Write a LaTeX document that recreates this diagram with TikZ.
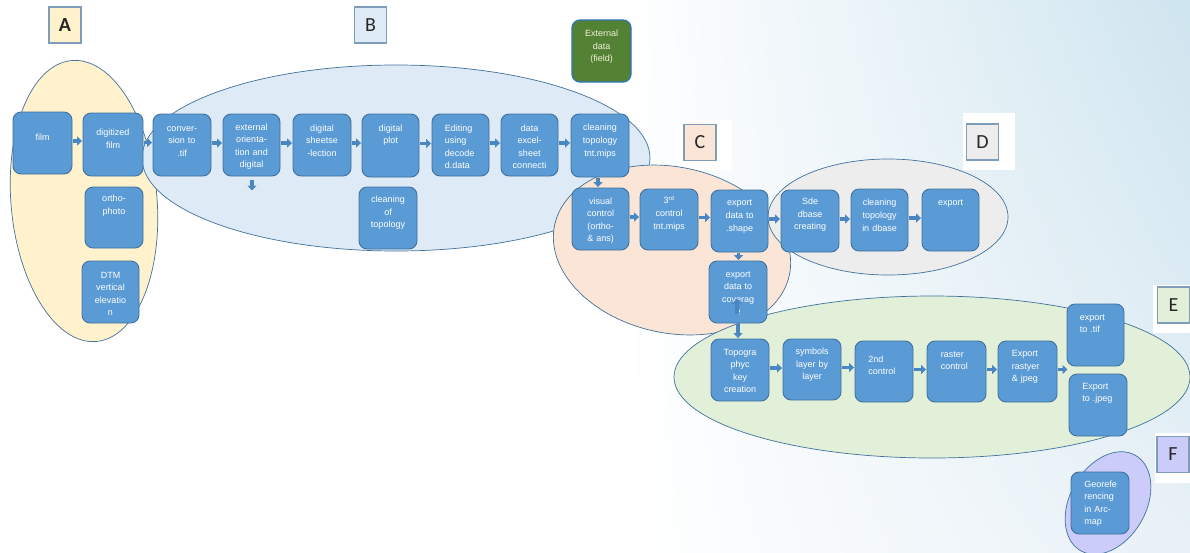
\documentclass[tikz,border=0pt]{standalone}
\usepackage{fontspec}
\setmainfont{Liberation Sans}
\newfontfamily\lblfont{Carlito}
\usetikzlibrary{fit,arrows.meta,shadings}
\definecolor{bxfill}{HTML}{5B9BD5}
\definecolor{bxline}{HTML}{41719C}
\definecolor{arcol}{HTML}{4A86C2}
\definecolor{ellline}{HTML}{41719C}
\definecolor{lblline}{HTML}{7F9DB9}
\definecolor{cA}{HTML}{FFF2CC}
\definecolor{cB}{HTML}{DEEBF7}
\definecolor{cC}{HTML}{FBE5D6}
\definecolor{cD}{HTML}{EDEDED}
\definecolor{cE}{HTML}{E2F0D9}
\definecolor{cF}{HTML}{CCCCFA}
\definecolor{extgreen}{HTML}{548235}
\definecolor{extline}{HTML}{2E75B6}
\definecolor{exttext}{HTML}{F4F1DA}
\definecolor{bgtop}{HTML}{CFE5EF}
\definecolor{bgbot}{HTML}{E8F1F7}
\newcommand\bxn[8][]{\node[bx,#1,fit={(#3,#4)(#5,#6)},path picture={\node[txt,#7] (#2-t) at (path picture bounding box.center) {#8};}] (#2) {};}
\tikzset{
 bx/.style={draw=bxline, fill=bxfill, line width=0.9pt, rounded corners=8pt, inner sep=0pt},
 txt/.style={draw=none, fill=none, text=white, font=\fontsize{9}{12.6}\selectfont, align=center, inner sep=0pt, yshift=-3pt},
 lft/.style={anchor=west, align=left, xshift=-16pt},
 ell/.style={draw=ellline, line width=0.7pt},
 ar/.style={draw=arcol, line width=3.6pt, -{Triangle[length=5pt,width=9pt]}, shorten <=0.5pt, shorten >=0.5pt},
 lbl/.style={draw=lblline, line width=1.5pt, minimum width=32pt, minimum height=36pt, inner sep=0pt, font=\lblfont\fontsize{20}{20}\selectfont, text=black!85},
 whitebg/.style={fill=white, draw=none}
}
\begin{document}
\begin{tikzpicture}[x=1pt,y=-1pt]
\useasboundingbox (0,0) rectangle (1190,552);
\fill[white] (0,0) rectangle (1190,552);
\shade[shading=bilinear interpolation, upper left=white, lower left=white, upper right=bgtop, lower right=bgbot] (620,0) rectangle (1190,552);
% white patches behind labels
\fill[whitebg] (680,120) rectangle (732,170);
\fill[whitebg] (963,113) rectangle (1015,170);
\fill[whitebg] (1153,285) rectangle (1190,333);
\fill[whitebg] (1155,433) rectangle (1190,483);
% group ellipses
\draw[ell, fill=cA, rotate around={5:(84,201)}] (84,201) ellipse [x radius=73, y radius=141];
\draw[ell, fill=cB] (396,158) ellipse [x radius=254, y radius=93];
\draw[ell, fill=cC, rotate around={-12:(672,250)}] (672,250) ellipse [x radius=120, y radius=83];
\draw[ell, fill=cD] (888,217) ellipse [x radius=120, y radius=58];
\draw[ell, fill=cE] (932,377) ellipse [x radius=258, y radius=81];
\draw[ell, fill=cF, rotate around={60:(1108,503)}] (1108,503) ellipse [x radius=55, y radius=38];
% boxes
\bxn{film}{13}{112}{72}{174}{yshift=6pt}{film}
\bxn{dig}{83}{113}{143}{176}{yshift=5.5pt}{digitized\\film}
\bxn{ortho}{85}{187}{143}{248}{yshift=11.5pt}{ortho-\\photo}
\bxn{dtm}{82}{261}{139}{323}{yshift=-2pt}{DTM\\vertical\\elevatio\\n}
\bxn{conv}{153}{114}{211}{176}{yshift=4pt}{conver-\\sion to\\.tif}
\bxn{ext}{223}{114}{280}{176}{yshift=-2pt}{external\\orienta-\\tion and\\digital}
\bxn{sheet}{293}{114}{351}{176}{yshift=4pt}{digital\\sheetse\\-lection}
\bxn{plot}{362}{114}{419}{177}{yshift=10pt}{digital\\plot}
\bxn{cleanof}{359}{187}{417}{249}{yshift=5pt}{cleaning\\of\\topology}
\bxn{edit}{432}{114}{489}{176}{lft,yshift=-2pt}{Editing\\using\\decode\\d.data}
\bxn{excel}{501}{114}{558}{176}{yshift=-2pt}{data\\excel-\\sheet\\connecti}
\bxn{ctt}{571}{114}{629}{177}{yshift=4pt}{cleaning\\topology\\tnt.mips}
\bxn{vis}{572}{188}{629}{250}{yshift=-2pt}{visual\\control\\(ortho-\\\& ans)}
\bxn{third}{640}{189}{698}{250}{yshift=5pt}{3\textsuperscript{rd}\\control\\tnt.mips}
\bxn{shape}{711}{190}{768}{252}{yshift=4.5pt}{export\\data to\\.shape}
\bxn{cov}{709}{261}{767}{323}{yshift=-1pt}{export\\data to\\coverag\\e}
\bxn{sde}{781}{190}{839}{252}{yshift=6pt}{Sde\\dbase\\creating}
\bxn{cldb}{851}{189}{908}{251}{yshift=4.5pt}{cleaning\\topology\\in dbase}
\bxn{exp}{922}{189}{979}{251}{yshift=17pt}{export}
\bxn{topo}{711}{339}{769}{401}{yshift=-1pt}{Topogra\\phyc\\key\\creation}
\bxn{sym}{783}{339}{841}{400}{yshift=4.5pt}{symbols\\layer by\\layer}
\bxn{second}{855}{341}{913}{402}{lft,yshift=6pt}{2nd\\control}
\bxn{raster}{927}{341}{986}{402}{lft,yshift=11pt}{raster\\control}
\bxn{erj}{998}{341}{1057}{402}{lft,yshift=4.5pt}{Export\\rastyer\\\& jpeg}
\bxn{etif}{1067}{304}{1124}{366}{lft,yshift=11.5pt}{export\\to .tif}
\bxn{ejpg}{1069}{374}{1127}{436}{lft,yshift=11.5pt}{Export\\to .jpeg}
\bxn{geo}{1071}{472}{1129}{534}{lft,yshift=-1pt}{Georefe\\rencing\\in Arc-\\map}
\bxn[fill=extgreen, draw=extline, line width=1.3pt]{extdata}{572}{20}{631}{82}{yshift=4pt, text=exttext}{External\\data\\(field)}
% free arrow ends
\coordinate (extdown1) at (252,179);
\coordinate (extdown2) at (252,191);
\coordinate (covup1) at (737,314);
\coordinate (covup2) at (737,298);
\coordinate (erjend) at (1068,369.5);
% arrows
\foreach \a/\b in {film/dig,dig/conv,conv/ext,ext/sheet,sheet/plot,plot/edit,edit/excel,excel/ctt,vis/third,third/shape,shape/sde,sde/cldb,cldb/exp,topo/sym,sym/second,second/raster,raster/erj}
  \draw[ar] ([yshift=2pt]\a.east) -- ([yshift=2pt]\a.east -| \b.west);
\draw[ar] ([yshift=2pt]erj.east) -- (erjend);
\draw[ar] ([xshift=-2pt]ctt.south) -- ([xshift=-2pt]ctt.south |- vis.north);
\draw[ar] ([xshift=-1pt]shape.south) -- ([xshift=-1pt]shape.south |- cov.north);
\draw[ar] (cov.south) -- (cov.south |- topo.north);
\draw[ar] (extdown1) -- (extdown2);
\draw[ar] (covup1) -- (covup2);
% labels
\node[lbl, fill=cA] (labA) at (65,25) {\bfseries A};
\node[lbl, fill=cB] (labB) at (370.5,25) {B};
\node[lbl, fill=cC] (labC) at (700,142.5) {C};
\node[lbl, fill=cD] (labD) at (982.5,142) {D};
\node[lbl, fill=cE] (labE) at (1173.5,305) {E};
\node[lbl, fill=cF] (labF) at (1173,454.5) {F};
\end{tikzpicture}
\end{document}
